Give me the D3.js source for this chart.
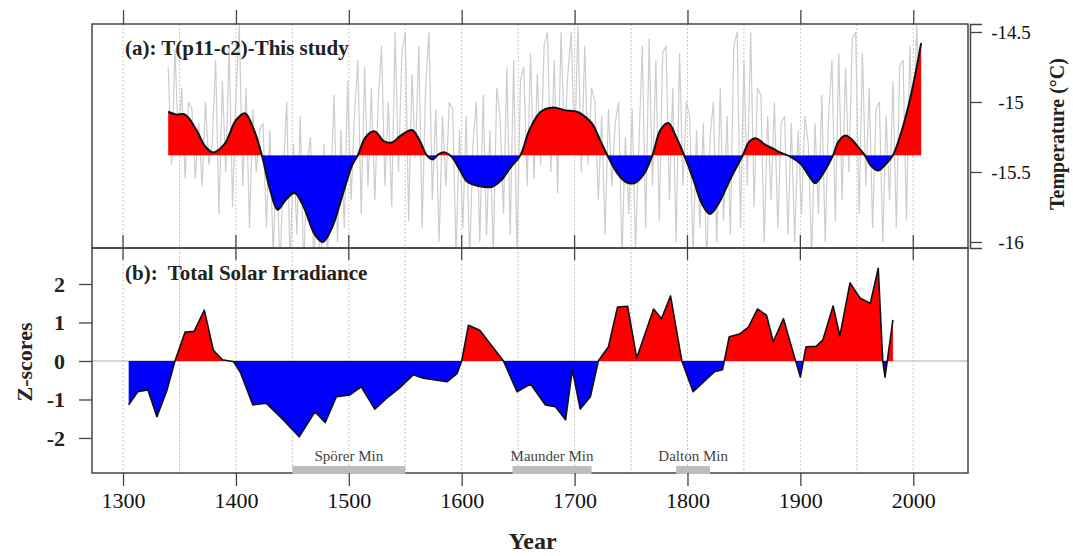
<!DOCTYPE html>
<html>
<head>
<meta charset="utf-8">
<script src="https://cdn.jsdelivr.net/npm/d3@7"></script>
<style>
  body { margin: 0; background: #fff; }
  svg, svg text { font-family: "Liberation Serif", "Times New Roman", serif; }
</style>
</head>
<body>
<svg id="chart" width="1073" height="556"></svg>
<script>
// --- data ---

// (a) smoothed temperature curve
const tempSmoothYears = [1340,1347,1355,1365,1373,1380,1390,1400,1408,1416,1423,1430,1437,1444,1452,1460,1470,1477,1485,1495,
  1503,1508,1515,1523,1531,1538,1546,1556,1563,1569,1574,1580,1585,1591,1598,1605,1615,1627,1635,1643,
  1652,1660,1670,1681,1692,1702,1710,1716,1723,1729,1737,1745,1753,1761,1769,1776,1783,1790,1797,1805,
  1813,1820,1828,1838,1849,1855,1861,1868,1875,1882,1891,1900,1907,1913,1921,1929,1934,1940,1947,1952,
  1957,1963,1969,1975,1982,1990,1998,2007]
const tempSmoothValues = [-15.07,-15.09,-15.09,-15.2,-15.32,-15.36,-15.3,-15.13,-15.08,-15.2,-15.38,-15.62,-15.77,-15.7,-15.65,-15.75,-15.95,-16.0,-15.9,-15.65,
  -15.45,-15.38,-15.25,-15.21,-15.28,-15.29,-15.24,-15.2,-15.28,-15.38,-15.41,-15.37,-15.36,-15.39,-15.48,-15.57,-15.6,-15.605,-15.56,-15.47,
  -15.38,-15.2,-15.07,-15.04,-15.06,-15.07,-15.11,-15.16,-15.28,-15.38,-15.5,-15.57,-15.58,-15.52,-15.38,-15.2,-15.15,-15.25,-15.38,-15.55,
  -15.73,-15.8,-15.72,-15.55,-15.38,-15.28,-15.26,-15.3,-15.33,-15.36,-15.39,-15.44,-15.52,-15.58,-15.5,-15.38,-15.28,-15.24,-15.28,-15.33,
  -15.38,-15.46,-15.49,-15.45,-15.38,-15.2,-14.95,-14.58]
const tempBaseline = -15.38

// (a) raw temperature series (grey), one value every 3 years from 1340
const tempRawStart = 1340
const tempRawStep = 3
const tempRawValues = [
  -14.75,-15.45,-14.62,-15.3,-14.9,-15.55,-15.0,
  -15.05,-15.55,-15.15,-15.6,-15.0,-15.45,-15.3,
  -14.7,-15.8,-14.85,-15.5,-14.6,-15.75,-14.95,
  -14.45,-15.6,-14.9,-15.9,-15.05,-15.5,-15.2,
  -15.15,-15.9,-15.2,-16.1,-15.4,-16.2,-15.5,
  -15.0,-16.2,-15.3,-15.95,-15.1,-16.2,-15.45,
  -15.25,-16.2,-15.5,-16.3,-15.3,-16.1,-15.6,
  -14.95,-16.0,-15.2,-15.9,-14.85,-15.7,-15.1,
  -14.7,-15.8,-14.75,-15.6,-14.9,-15.7,-15.0,
  -14.6,-15.6,-15.0,-15.75,-14.5,-15.5,-14.65,
  -14.5,-15.85,-14.8,-15.4,-14.6,-15.9,-14.9,
  -14.5,-15.7,-15.05,-16.0,-15.1,-15.6,-15.0,
  -15.05,-16.1,-15.2,-15.9,-15.1,-16.15,-15.3,
  -15.0,-16.0,-14.95,-15.95,-15.2,-16.1,-14.9,
  -15.1,-15.8,-14.75,-15.95,-14.7,-16.1,-14.85,
  -14.75,-15.6,-14.65,-15.55,-14.8,-15.45,-14.6,
  -14.5,-15.5,-14.7,-15.65,-14.5,-15.3,-14.8,
  -14.5,-15.35,-14.45,-15.5,-14.6,-15.45,-14.9,
  -15.0,-15.7,-15.1,-15.95,-15.05,-15.6,-15.15,
  -15.0,-16.1,-15.25,-15.8,-15.05,-16.05,-15.3,
  -14.6,-15.9,-14.55,-15.6,-14.7,-15.85,-14.65,
  -14.6,-15.7,-14.9,-16.0,-14.65,-15.6,-15.0,
  -15.1,-16.1,-15.2,-15.9,-15.15,-16.2,-15.25,
  -15.0,-16.0,-14.9,-15.85,-15.1,-15.95,-14.6,
  -14.5,-15.9,-14.7,-15.6,-14.5,-15.75,-14.9,
  -14.95,-16.0,-15.1,-15.7,-15.0,-15.9,-15.15,
  -15.1,-15.95,-15.15,-16.0,-15.2,-15.8,-15.1,
  -15.3,-16.1,-15.15,-15.8,-14.95,-16.0,-15.1,
  -14.7,-15.85,-14.65,-15.7,-14.75,-15.5,-14.55,
  -14.5,-15.8,-14.65,-15.6,-14.9,-15.9,-15.05,
  -15.0,-16.0,-15.1,-15.7,-14.85,-15.9,-14.75,
  -14.7,-15.85,-14.6,-15.4,-14.45,-15.05]

// (b) total solar irradiance z-scores
const tsiYears = [1305,1313,1322,1330,1339,1346,1355,1363,1372,1380,1388,1398,1404,1415,1427,1442,1456,1470,1479,1489,
  1501,1511,1523,1535,1545,1557,1566,1587,1596,1600,1606,1616,1637,1649,1661,1674,1683,1692,1698,1705,
  1714,1721,1730,1738,1747,1755,1770,1777,1785,1795,1805,1824,1831,1837,1846,1854,1862,1870,1876,1885,
  1895,1900,1905,1914,1920,1929,1935,1944,1953,1962,1969,1973,1975,1982]
const tsiValues = [-1.14,-0.8,-0.75,-1.45,-0.75,0.0,0.75,0.77,1.32,0.28,0.03,-0.02,-0.3,-1.14,-1.1,-1.53,-1.97,-1.32,-1.6,-0.93,
  -0.88,-0.67,-1.25,-0.93,-0.7,-0.36,-0.45,-0.54,-0.32,0.0,0.93,0.8,0.0,-0.8,-0.6,-1.14,-1.19,-1.53,-0.23,-1.25,
  -0.93,0.0,0.37,1.4,1.42,0.08,1.35,1.1,1.69,0.0,-0.8,-0.28,-0.23,0.63,0.7,0.88,1.35,1.19,0.5,1.1,
  0.08,-0.42,0.37,0.38,0.55,1.43,0.65,2.03,1.63,1.5,2.41,0.0,-0.42,1.07]

// solar minima
const minimaNames = ["Spörer Min", "Maunder Min", "Dalton Min"]
const minimaStart = [1450, 1645, 1790]
const minimaEnd = [1550, 1715, 1820]

// ticks
const yearTicks = [1300, 1400, 1500, 1600, 1700, 1800, 1900, 2000]
const gridYears = [1300, 1350, 1400, 1450, 1500, 1550, 1600, 1650, 1700, 1750, 1800, 1850, 1900, 1950, 2000]
const tempTicks = [-14.5, -15, -15.5, -16]
const zTicks = [2, 1, 0, -1, -2]

// --- layout ---
const left = 92, right = 968
const topA = 24, bottomA = 248
const topB = 248, bottomB = 473
const frameColor = "#444"
const serif = '"Liberation Serif", "Times New Roman", serif'

const svg = d3.select("#chart")

const x = d3.scaleLinear().domain([1272.5, 2048.5]).range([left, right])
const yT = d3.scaleLinear().domain([-14.443, -16.043]).range([topA, bottomA])
const yZ = d3.scaleLinear().domain([2.935, -2.91]).range([topB, bottomB])

const defs = svg.append("defs")
function clipRect(id, y0, y1){
    defs.append("clipPath").attr("id", id)
        .append("rect")
        .attr("x", left).attr("y", y0)
        .attr("width", right - left).attr("height", y1 - y0)
}
clipRect("clipA", topA, bottomA)
clipRect("clipA-pos", topA, yT(tempBaseline))
clipRect("clipA-neg", yT(tempBaseline), bottomA)
clipRect("clipB-pos", topB, yZ(0))
clipRect("clipB-neg", yZ(0), bottomB)

// dotted grid lines
function grid(y0, y1){
    svg.append("g")
        .selectAll("line")
        .data(gridYears)
        .enter().append("line")
        .attr("x1", d => x(d)).attr("x2", d => x(d))
        .attr("y1", y0).attr("y2", y1)
        .attr("stroke", "#c8c8c8")
        .attr("stroke-width", 1)
        .attr("stroke-dasharray", "2,2")
}
grid(topA, bottomA)
grid(topB, bottomB)

// ---------- panel (a) ----------
const rawData = tempRawValues.map((v, i) => [tempRawStart + i * tempRawStep, v])
svg.append("path")
    .datum(rawData)
    .attr("clip-path", "url(#clipA)")
    .attr("fill", "none")
    .attr("stroke", "#cdcdcd")
    .attr("stroke-width", 1.2)
    .attr("d", d3.line().x(d => x(d[0])).y(d => yT(d[1])))

const smoothData = tempSmoothYears.map((yr, i) => [yr, tempSmoothValues[i]])
const smoothArea = d3.area()
    .x(d => x(d[0]))
    .y0(yT(tempBaseline))
    .y1(d => yT(d[1]))
    .curve(d3.curveCatmullRom)

svg.append("path").datum(smoothData)
    .attr("clip-path", "url(#clipA-pos)")
    .attr("fill", "#ff0000")
    .attr("d", smoothArea)
svg.append("path").datum(smoothData)
    .attr("clip-path", "url(#clipA-neg)")
    .attr("fill", "#0000ff")
    .attr("d", smoothArea)
svg.append("path").datum(smoothData)
    .attr("fill", "none")
    .attr("stroke", "#111")
    .attr("stroke-width", 2)
    .attr("d", d3.line().x(d => x(d[0])).y(d => yT(d[1])).curve(d3.curveCatmullRom))

// ---------- panel (b) ----------
svg.append("line")
    .attr("x1", left).attr("x2", right)
    .attr("y1", yZ(0)).attr("y2", yZ(0))
    .attr("stroke", "#aaa")
    .attr("stroke-width", 1)

const tsiData = tsiYears.map((yr, i) => [yr, tsiValues[i]])
const tsiArea = d3.area()
    .x(d => x(d[0]))
    .y0(yZ(0))
    .y1(d => yZ(d[1]))

svg.append("path").datum(tsiData)
    .attr("clip-path", "url(#clipB-pos)")
    .attr("fill", "#ff0000")
    .attr("d", tsiArea)
svg.append("path").datum(tsiData)
    .attr("clip-path", "url(#clipB-neg)")
    .attr("fill", "#0000ff")
    .attr("d", tsiArea)
svg.append("path").datum(tsiData)
    .attr("fill", "none")
    .attr("stroke", "#111")
    .attr("stroke-width", 1.6)
    .attr("stroke-linejoin", "round")
    .attr("d", d3.line().x(d => x(d[0])).y(d => yZ(d[1])))

// ---------- frames ----------
function frame(y0, y1){
    svg.append("rect")
        .attr("x", left).attr("y", y0)
        .attr("width", right - left).attr("height", y1 - y0)
        .attr("fill", "none")
        .attr("stroke", frameColor)
        .attr("stroke-width", 1.5)
}
frame(topA, bottomA)
frame(topB, bottomB)

// minima bars + labels
const minima = minimaNames.map((n, i) => ({name: n, start: minimaStart[i], end: minimaEnd[i]}))
const minG = svg.append("g")
minG.selectAll("rect")
    .data(minima)
    .enter().append("rect")
    .attr("x", d => x(d.start))
    .attr("width", d => x(d.end) - x(d.start))
    .attr("y", bottomB - 7)
    .attr("height", 8)
    .attr("fill", "#bdbdbd")
minG.selectAll("text")
    .data(minima)
    .enter().append("text")
    .attr("x", d => x((d.start + d.end) / 2))
    .attr("y", bottomB - 12)
    .attr("text-anchor", "middle")
    .attr("font-size", 15)
    .attr("fill", "#444")
    .text(d => d.name)

// ---------- axes ----------
// top ticks of panel (a), outward
svg.append("g")
    .attr("transform", `translate(0,${topA})`)
    .call(d3.axisTop(x).tickValues(yearTicks).tickSize(14).tickFormat(""))
    .call(g => g.select(".domain").remove())

// ticks across panel boundary
svg.append("g")
    .selectAll("line")
    .data(yearTicks)
    .enter().append("line")
    .attr("x1", d => x(d)).attr("x2", d => x(d))
    .attr("y1", bottomA - 13).attr("y2", topB + 12)
    .attr("stroke", frameColor)
    .attr("stroke-width", 1.3)

// bottom year axis
svg.append("g")
    .attr("transform", `translate(0,${bottomB})`)
    .attr("font-family", serif)
    .call(d3.axisBottom(x).tickValues(yearTicks).tickSize(13).tickPadding(6).tickFormat(d => String(d)))
    .attr("font-family", serif)
    .call(g => g.select(".domain").remove())
    .call(g => g.selectAll("text").attr("font-size", 22).attr("fill", "#111"))

// right temperature axis
svg.append("g")
    .attr("transform", `translate(${right + 2},0)`)
    .call(d3.axisRight(yT).tickValues(tempTicks).tickSize(12).tickFormat(d => String(d)))
    .attr("font-family", serif)
    .call(g => g.select(".domain").attr("stroke", frameColor).attr("stroke-width", 1.5))
    .call(g => g.selectAll("text")
        .attr("x", 41)
        .attr("text-anchor", "middle")
        .attr("font-size", 19)
        .attr("fill", "#111"))

// left z-score axis
svg.append("g")
    .attr("transform", `translate(${left},0)`)
    .call(d3.axisLeft(yZ).tickValues(zTicks).tickSize(13).tickPadding(14).tickFormat(d => String(d)))
    .attr("font-family", serif)
    .call(g => g.select(".domain").remove())
    .call(g => g.selectAll("text")
        .attr("font-size", 22)
        .attr("font-weight", "bold")
        .attr("fill", "#222"))

svg.selectAll(".tick line").attr("stroke", frameColor).attr("stroke-width", 1.3)

// ---------- titles ----------
svg.append("text")
    .attr("x", 125).attr("y", 55)
    .attr("font-size", 21).attr("font-weight", "bold").attr("fill", "#222")
    .text("(a): T(p11-c2)-This study")

svg.append("text")
    .attr("x", 125).attr("y", 280)
    .attr("font-size", 21).attr("font-weight", "bold").attr("fill", "#222")
    .style("white-space", "pre")
    .text("(b):  Total Solar Irradiance")

svg.append("text")
    .attr("transform", "translate(1064,134) rotate(-90)")
    .attr("text-anchor", "middle")
    .attr("font-size", 20).attr("font-weight", "bold").attr("fill", "#222")
    .text("Temperature (°C)")

svg.append("text")
    .attr("transform", "translate(32,362) rotate(-90)")
    .attr("text-anchor", "middle")
    .attr("font-size", 22).attr("font-weight", "bold").attr("fill", "#222")
    .text("Z-scores")

svg.append("text")
    .attr("x", x(1700) - 42).attr("y", 549)
    .attr("text-anchor", "middle")
    .attr("font-size", 24).attr("font-weight", "bold").attr("fill", "#222")
    .text("Year")
</script>
</body>
</html>
